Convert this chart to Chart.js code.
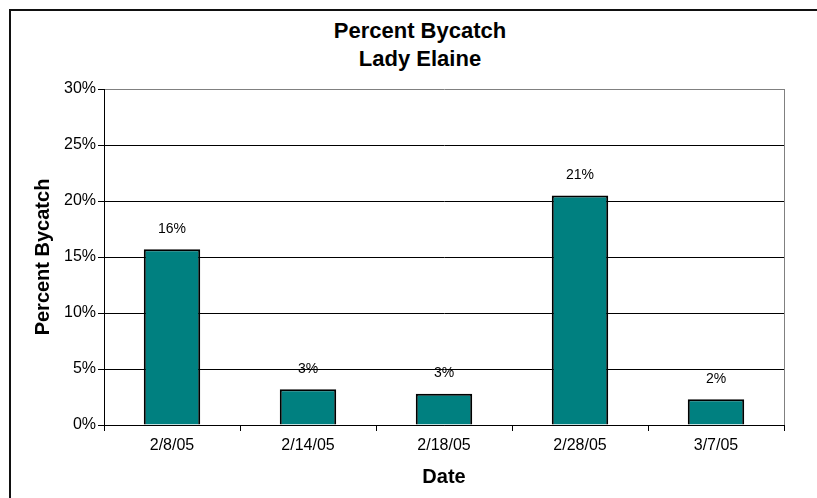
<!DOCTYPE html>
<html>
<head>
<meta charset="utf-8">
<script src="https://cdn.jsdelivr.net/npm/chart.js@4.4.1/dist/chart.umd.min.js"></script>
<style>
  html, body { margin: 0; padding: 0; background: #fff; overflow: hidden; }
  #wrap { position: relative; width: 817px; height: 498px; overflow: hidden; }
  #frame { position: absolute; left: 9px; top: 9px; width: 900px; height: 600px; border: 2px solid #111; }
  #title { position: absolute; left: 20px; top: 17px; width: 800px; text-align: center;
           font: bold 22px "Liberation Sans", Arial, sans-serif; line-height: 28px; color: #000; }
  canvas { position: absolute; left: 0; top: 0; }
</style>
</head>
<body>
<div id="wrap">
  <div id="frame"></div>
  <div id="title">Percent Bycatch<br>Lady Elaine</div>
  <canvas id="bycatchChart" width="817" height="498"></canvas>
</div>
<script>
const dates = ['2/8/05', '2/14/05', '2/18/05', '2/28/05', '3/7/05'];
const bycatchPct = [15.7, 3.2, 2.8, 20.5, 2.3];
const yTicks = [0, 5, 10, 15, 20, 25, 30];

const FONT = '"Liberation Sans", Arial, sans-serif';

// labels above each bar
const barLabels = {
    id: 'barLabels',
    afterDatasetsDraw(chart) {
        const ctx = chart.ctx;
        ctx.save();
        ctx.font = '14px ' + FONT;
        ctx.fillStyle = '#000';
        ctx.textAlign = 'center';
        ctx.textBaseline = 'middle';
        chart.getDatasetMeta(0).data.forEach((bar, i) => {
            ctx.fillText(Math.round(bycatchPct[i]) + '%', bar.x, bar.y - 20);
        });
        ctx.restore();
    }
};

new Chart(document.getElementById('bycatchChart').getContext('2d'), {
    type: 'bar',
    data: {
        labels: dates,
        datasets: [{
            label: 'Percent Bycatch',
            data: bycatchPct,
            backgroundColor: '#008080',
            borderColor: '#000',
            borderWidth: 2,
            barPercentage: 0.415,
            categoryPercentage: 1
        }]
    },
    options: {
        responsive: false,
        animation: false,
        layout: { padding: { top: 89, right: 33, bottom: 0, left: 0 } },
        plugins: { legend: { display: false }, title: { display: false }, tooltip: { enabled: false } },
        scales: {
            x: {
                afterFit: s => { s.height = 73; },
                border: { color: '#000', width: 1 },
                grid: {
                    offset: true,
                    drawOnChartArea: true,
                    color: c => c.tick ? 'rgba(0,0,0,0)' : '#808080',
                    tickColor: '#000',
                    tickLength: 6
                },
                ticks: { color: '#000', font: { family: FONT, size: 16 }, padding: 5, maxRotation: 0 },
                title: { display: true, text: 'Date', color: '#000',
                         font: { family: FONT, size: 20, weight: 'bold' }, padding: { top: 0, bottom: 9 } }
            },
            y: {
                min: 0,
                max: 30,
                afterFit: s => { s.width = 104; },
                afterBuildTicks: s => { s.ticks = yTicks.map(v => ({ value: v })); },
                border: { color: '#000', width: 1 },
                grid: {
                    color: c => (c.tick && c.tick.value === 30) ? '#808080' : '#000',
                    tickColor: '#000',
                    tickLength: 6
                },
                ticks: { color: '#000', font: { family: FONT, size: 16 }, padding: 2, callback: v => v + '%' },
                title: { display: true, text: 'Percent Bycatch', color: '#000',
                         font: { family: FONT, size: 20, weight: 'bold' }, padding: { top: 31, bottom: 0 } }
            }
        }
    },
    plugins: [barLabels]
});
</script>
</body>
</html>
